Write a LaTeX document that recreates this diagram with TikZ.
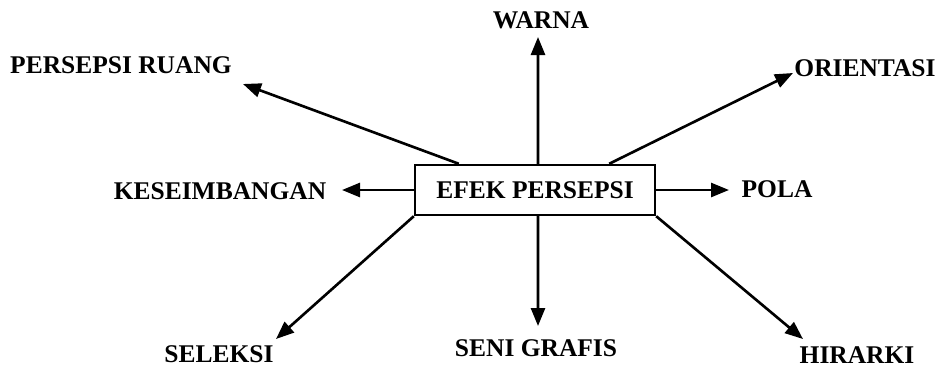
\documentclass[tikz,border=0pt]{standalone}
\usepackage{fontspec}
\setmainfont{Liberation Serif}
\usetikzlibrary{arrows.meta}

\begin{document}
\begin{tikzpicture}[x=0.02cm, y=-0.02cm, >={Triangle[length=3.6mm,width=2.8mm]},
        lbl/.style={font=\fontsize{14.5}{16}\selectfont\bfseries, inner sep=0pt},
        link/.style={->, line width=1.5pt}]
        \useasboundingbox (0,0) rectangle (946,369);

        % ==== CENTRE BOX ====
        \node[lbl, draw, line width=1.4pt, minimum width=4.8cm, minimum height=1cm] (efek) at (535,190) {EFEK PERSEPSI};

        % ==== LABELS ====
        \node[lbl] (warna) at (541,20) {WARNA};
        \node[lbl] (ruang) at (121,65) {PERSEPSI RUANG};
        \node[lbl] (orientasi) at (865,68) {ORIENTASI};
        \node[lbl] (keseimbangan) at (220,191) {KESEIMBANGAN};
        \node[lbl] (pola) at (777,189) {POLA};
        \node[lbl] (seleksi) at (219,354) {SELEKSI};
        \node[lbl] (seni) at (536,348) {SENI GRAFIS};
        \node[lbl] (hirarki) at (857,355) {HIRARKI};

        % ==== ARROW TIPS ====
        \coordinate (tWarna) at (538,37);
        \coordinate (tRuang) at (243,84);
        \coordinate (tOrientasi) at (793,73);
        \coordinate (tKese) at (342,190);
        \coordinate (tPola) at (729,190);
        \coordinate (tSeleksi) at (276,339);
        \coordinate (tSeni) at (538,326);
        \coordinate (tHirarki) at (803,339);

        % ==== ARROWS ====
        \draw[link] ([xshift=0.06cm]efek.north) -- (tWarna);
        \draw[link] ([xshift=0.9cm]efek.north west) -- (tRuang);
        \draw[link] ([xshift=-0.94cm]efek.north east) -- (tOrientasi);
        \draw[link] (efek.west) -- (tKese);
        \draw[link] (efek.east) -- (tPola);
        \draw[link] (efek.south west) -- (tSeleksi);
        \draw[link] ([xshift=0.06cm]efek.south) -- (tSeni);
        \draw[link] (efek.south east) -- (tHirarki);

\end{tikzpicture}
\end{document}
